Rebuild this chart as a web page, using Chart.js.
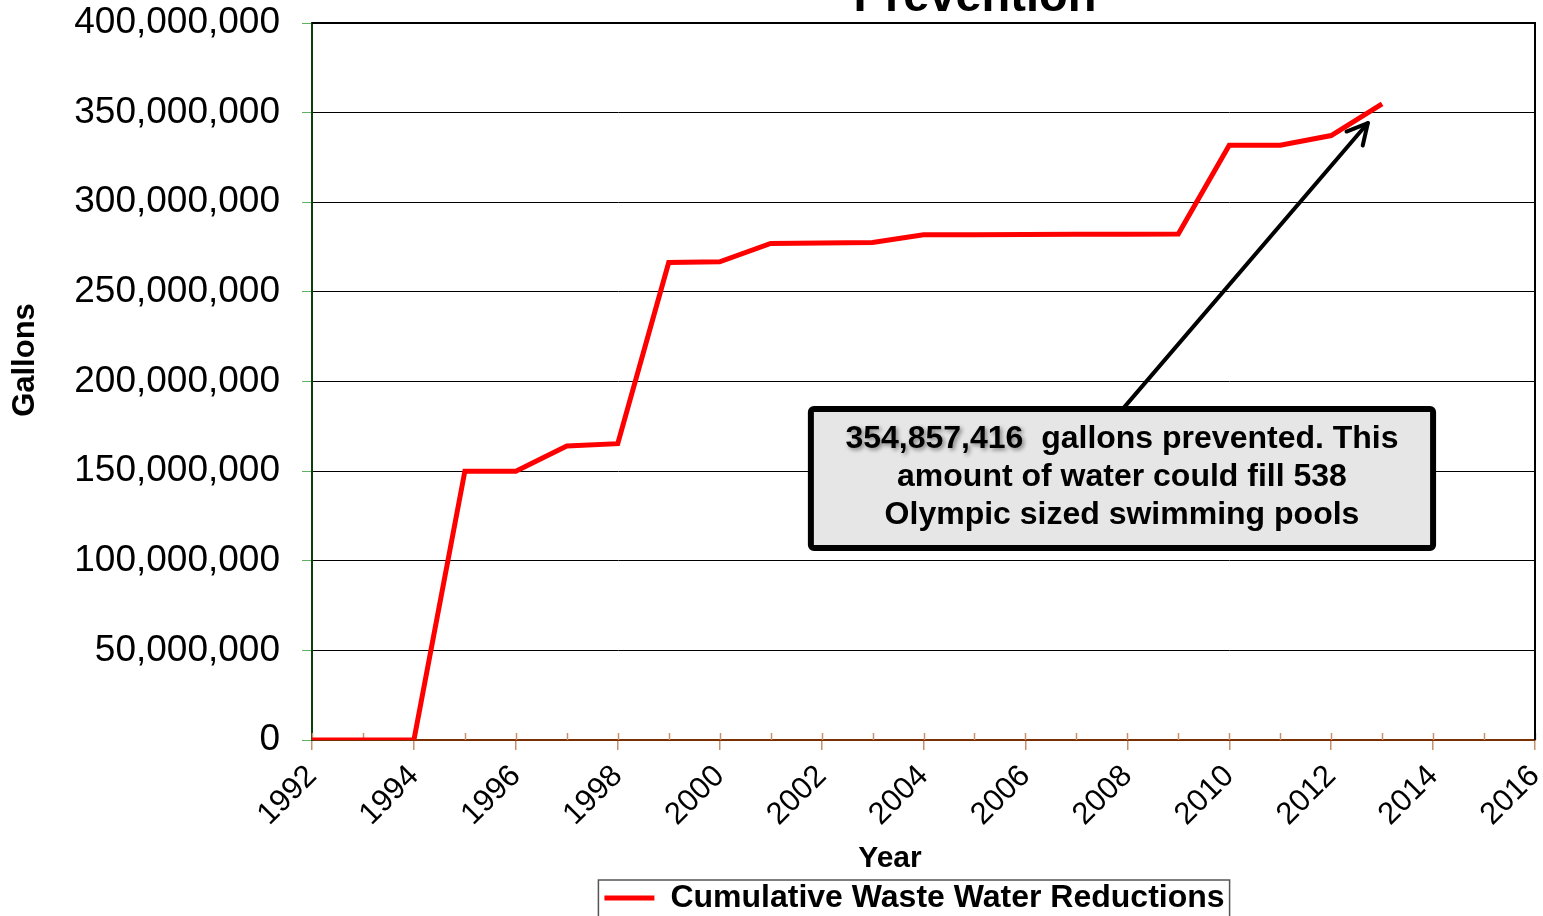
<!DOCTYPE html>
<html><head><meta charset="utf-8">
<script src="https://cdn.jsdelivr.net/npm/chart.js@4.4.1/dist/chart.umd.min.js"></script>
<style>
html,body{margin:0;padding:0;background:#fff;overflow:hidden;width:1543px;height:916px}
#wrap{position:absolute;left:0;top:0;width:1543px;height:924px}
</style></head><body>
<div id="wrap"><canvas id="c"></canvas></div>
<script>
// ---- data ----
const years = [1992,1993,1994,1995,1996,1997,1998,1999,2000,2001,2002,2003,2004,2005,2006,2007,2008,2009,2010,2011,2012,2013];
const gallons = [0,0,0,150000000,150000000,164000000,165300000,266400000,266800000,277000000,277200000,277600000,281800000,281800000,282000000,282100000,282200000,282300000,331800000,331800000,337200000,354857416];
const xTickYears = [1992,1994,1996,1998,2000,2002,2004,2006,2008,2010,2012,2014,2016];
const yTickValues = [0,50000000,100000000,150000000,200000000,250000000,300000000,350000000,400000000];
const titleText = 'Prevention';
const xTitle = 'Year';
const yTitle = 'Gallons';
const seriesName = 'Cumulative Waste Water Reductions';
const noteNumber = '354,857,416';
const noteLine1Rest = '  gallons prevented. This';
const noteLine2 = 'amount of water could fill 538';
const noteLine3 = 'Olympic sized swimming pools';

// annotation placement (data units)
const noteBox = {x0: 2001.79, x1: 2014.0, y0: 107100000, y1: 184700000};
const noteArrow = {x0: 2007.92, y0: 185000000, x1: 2012.72, y1: 344200000};

const FONT = "'Liberation Sans', Arial, Helvetica, sans-serif";

const deco = {
  id: 'deco',
  afterLayout(chart) {
    const lg = chart.legend;
    if (lg) { lg.left -= 9; lg.right -= 9; }
  },
  beforeDatasetsDraw(chart) {
    const {ctx, chartArea: a, scales: {x}} = chart;
    ctx.save();
    ctx.strokeStyle = '#c8906c'; ctx.lineWidth = 1.5;
    for (let v = xTickYears[0]; v <= xTickYears[xTickYears.length-1]; v++) {
      const px = Math.round(x.getPixelForValue(v)) + 0.5;
      ctx.beginPath(); ctx.moveTo(px, a.bottom - 7); ctx.lineTo(px, a.bottom); ctx.stroke();
    }
    ctx.strokeStyle = '#000'; ctx.lineWidth = 2;
    ctx.beginPath(); ctx.moveTo(a.left, a.top); ctx.lineTo(a.right, a.top); ctx.lineTo(a.right, a.bottom); ctx.stroke();
    ctx.restore();
  },
  afterDatasetsDraw(chart) {
    const {ctx, scales: {x, y}} = chart;
    ctx.save();
    const ax0 = x.getPixelForValue(noteArrow.x0), ay0 = y.getPixelForValue(noteArrow.y0);
    const ax1 = x.getPixelForValue(noteArrow.x1), ay1 = y.getPixelForValue(noteArrow.y1);
    ctx.strokeStyle = '#000'; ctx.lineWidth = 4; ctx.lineCap = 'round'; ctx.lineJoin = 'round';
    ctx.beginPath(); ctx.moveTo(ax0, ay0); ctx.lineTo(ax1, ay1); ctx.stroke();
    const ang = Math.atan2(ay1 - ay0, ax1 - ax0), L = 23, spread = Math.PI / 6.5;
    ctx.beginPath();
    ctx.moveTo(ax1 - L * Math.cos(ang - spread), ay1 - L * Math.sin(ang - spread));
    ctx.lineTo(ax1, ay1);
    ctx.lineTo(ax1 - L * Math.cos(ang + spread), ay1 - L * Math.sin(ang + spread));
    ctx.stroke();
    const bx0 = x.getPixelForValue(noteBox.x0), bx1 = x.getPixelForValue(noteBox.x1);
    const by0 = y.getPixelForValue(noteBox.y1), by1 = y.getPixelForValue(noteBox.y0);
    ctx.beginPath();
    if (ctx.roundRect) ctx.roundRect(bx0, by0, bx1 - bx0, by1 - by0, 3); else ctx.rect(bx0, by0, bx1 - bx0, by1 - by0);
    ctx.fillStyle = '#e6e6e6'; ctx.fill();
    ctx.lineWidth = 6; ctx.strokeStyle = '#000'; ctx.stroke();
    const cx = (bx0 + bx1) / 2;
    ctx.font = 'bold 32px ' + FONT; ctx.fillStyle = '#000'; ctx.textBaseline = 'middle';
    const w1 = ctx.measureText(noteNumber).width, w2 = ctx.measureText(noteLine1Rest).width;
    let sx = cx - (w1 + w2) / 2;
    const ly = by0 - 3 + 33;
    ctx.textAlign = 'left';
    ctx.save();
    ctx.shadowColor = 'rgba(0,0,0,0.45)'; ctx.shadowBlur = 4; ctx.shadowOffsetX = 2; ctx.shadowOffsetY = 2;
    ctx.fillText(noteNumber, sx, ly);
    ctx.restore();
    ctx.fillText(noteLine1Rest, sx + w1, ly);
    ctx.textAlign = 'center';
    ctx.fillText(noteLine2, cx, ly + 38);
    ctx.fillText(noteLine3, cx, ly + 76);
    ctx.restore();
  },
  afterDraw(chart) {
    const {ctx} = chart;
    ctx.save();
    ctx.fillStyle = '#000';
    ctx.font = 'bold 47px ' + FONT; ctx.textAlign = 'center'; ctx.textBaseline = 'alphabetic';
    ctx.fillText(titleText, 975, 11);
    ctx.font = 'bold 30px ' + FONT; ctx.textBaseline = 'middle';
    ctx.fillText(xTitle, 890, 859);
    ctx.font = 'bold 31px ' + FONT;
    ctx.save(); ctx.translate(25, 360); ctx.rotate(-Math.PI / 2); ctx.fillText(yTitle, 0, 0); ctx.restore();
    const lg = chart.legend;
    if (lg && lg.legendHitBoxes && lg.legendHitBoxes.length) {
      const hb = lg.legendHitBoxes[0];
      ctx.strokeStyle = '#555'; ctx.lineWidth = 1.5;
      ctx.strokeRect(hb.left - 6, hb.top - 2, hb.width + 11, hb.height + 10);
    }
    ctx.restore();
  }
};

new Chart(document.getElementById('c'), {
  type: 'line',
  data: {
    datasets: [{
      label: seriesName,
      data: years.map((yr, i) => ({x: yr, y: gallons[i]})),
      borderColor: '#ff0000',
      backgroundColor: '#ff0000',
      borderWidth: 5,
      pointRadius: 0,
      tension: 0,
      fill: false
    }]
  },
  options: {
    responsive: true,
    maintainAspectRatio: false,
    devicePixelRatio: 1,
    animation: false,
    layout: {padding: {top: 23, right: 8, left: 0, bottom: 0}},
    plugins: {
      title: {display: false},
      tooltip: {enabled: false},
      legend: {
        display: true, position: 'bottom', align: 'center', fullSize: false,
        labels: {
          usePointStyle: true, pointStyle: 'line', pointStyleWidth: 50,
          color: '#000', padding: 2,
          font: {family: FONT, size: 32, weight: 'bold'}
        }
      }
    },
    scales: {
      x: {
        type: 'linear', min: xTickYears[0], max: xTickYears[xTickYears.length - 1],
        afterBuildTicks: s => { const t = []; for (let v = xTickYears[0]; v <= xTickYears[xTickYears.length-1]; v++) t.push({value: v}); s.ticks = t; },
        ticks: {
          autoSkip: false, maxRotation: 45, minRotation: 45, padding: 8, color: '#000',
          font: {family: FONT, size: 31},
          callback: v => xTickYears.includes(v) ? String(v) : ''
        },
        grid: {
          drawOnChartArea: false, tickLength: 10, lineWidth: 1.5,
          tickColor: c => (c.tick && xTickYears.includes(c.tick.value)) ? '#c8906c' : 'rgba(0,0,0,0)'
        },
        border: {color: '#7a3000', width: 2},
        afterFit: s => { s.height = 140; s.paddingLeft = 0; s.paddingRight = 0; }
      },
      y: {
        min: yTickValues[0], max: yTickValues[yTickValues.length - 1],
        afterBuildTicks: s => { s.ticks = yTickValues.map(v => ({value: v})); },
        ticks: {
          color: '#000', padding: 22,
          font: {family: FONT, size: 37},
          callback: v => Number(v).toLocaleString('en-US')
        },
        grid: {color: '#000', lineWidth: 1, tickLength: 10, tickColor: '#5fb35f'},
        border: {color: '#0a400a', width: 2},
        afterFit: s => { s.width = 312; s.paddingTop = 0; s.paddingBottom = 0; }
      }
    }
  },
  plugins: [deco]
});
</script>
</body></html>
